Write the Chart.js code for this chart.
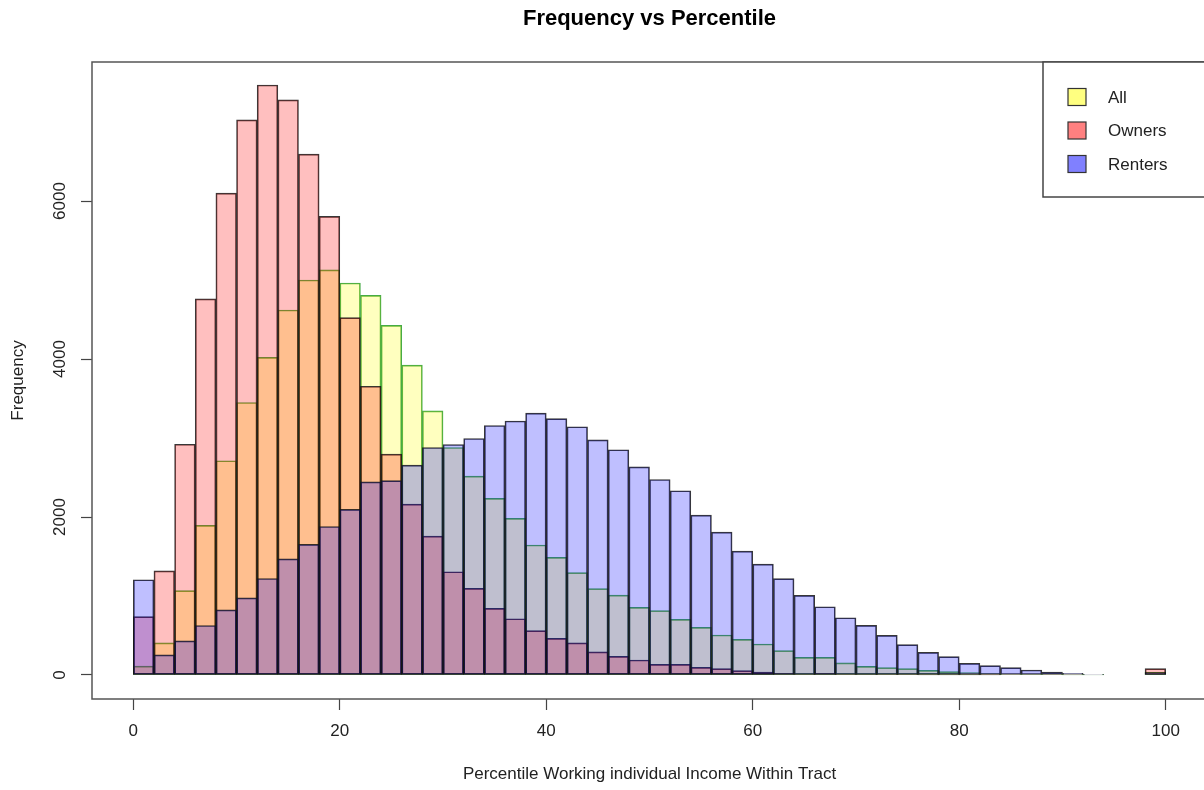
<!DOCTYPE html>
<html>
<head>
<meta charset="utf-8">
<title>Frequency vs Percentile</title>
<script src="https://cdn.jsdelivr.net/npm/chart.js@4.4.1/dist/chart.umd.min.js"></script>
<style>
  html, body { margin: 0; padding: 0; background: #ffffff; overflow: hidden; }
  #chart { display: block; }
</style>
</head>
<body>
<canvas id="chart" width="1230" height="790"></canvas>
<script>
// histogram bins of width 2, given by their midpoints
const binMids = [1, 3, 5, 7, 9, 11, 13, 15, 17, 19, 21, 23, 25, 27, 29, 31, 33, 35, 37, 39,
    41, 43, 45, 47, 49, 51, 53, 55, 57, 59, 61, 63, 65, 67, 69, 71, 73, 75, 77, 79,
    81, 83, 85, 87, 89, 91, 93, 95, 97, 99];

const allCounts = [112, 407, 1068, 1893, 2712, 3450, 4020, 4620, 5000, 5128,
    4962, 4805, 4425, 3922, 3344, 2880, 2517, 2235, 1982, 1645,
    1488, 1295, 1094, 1012, 856, 814, 704, 603, 506, 451,
    392, 308, 223, 223, 154, 110, 93, 80, 59, 42,
    30, 17, 8, 5, 3, 2, 1, 0, 0, 35];

const ownerCounts = [738, 1318, 2921, 4762, 6100, 7027, 7469, 7281, 6594, 5805,
    4523, 3655, 2795, 2163, 1758, 1307, 1096, 843, 712, 561,
    464, 407, 293, 236, 190, 135, 135, 97, 80, 55,
    38, 21, 13, 21, 8, 5, 4, 3, 2, 2,
    1, 1, 0, 0, 0, 0, 0, 0, 0, 80];

const renterCounts = [1206, 254, 432, 626, 824, 977, 1221, 1470, 1654, 1880,
    2096, 2444, 2460, 2657, 2880, 2918, 2994, 3158, 3215, 3316,
    3245, 3143, 2977, 2851, 2635, 2475, 2332, 2024, 1809, 1569,
    1404, 1219, 1008, 864, 725, 628, 502, 384, 287, 232,
    148, 118, 93, 63, 38, 21, 8, 0, 0, 30];

const xTicks = [0, 20, 40, 60, 80, 100];
const yTicks = [0, 2000, 4000, 6000];

const fontFamily = '"Liberation Sans", Arial, Helvetica, sans-serif';
const textColor = '#222222';
const mainTitle = 'Frequency vs Percentile';

const legendItems = [
    { label: 'All', color: 'rgb(255,255,128)' },
    { label: 'Owners', color: 'rgb(255,128,128)' },
    { label: 'Renters', color: 'rgb(128,128,255)' }
];

const toPoints = counts => counts.map((c, i) => ({ x: binMids[i], y: c }));

// frame around the plot region, R style
const framePlugin = {
    id: 'plotFrame',
    afterDatasetsDraw: (chart) => {
        const { ctx, chartArea } = chart;
        ctx.save();
        ctx.strokeStyle = '#555555';
        ctx.lineWidth = 1.5;
        ctx.strokeRect(chartArea.left, chartArea.top, chartArea.right - chartArea.left, chartArea.bottom - chartArea.top);
        ctx.restore();
    }
};

// main title, centred over the plot region (not the whole canvas)
const plotTitlePlugin = {
    id: 'plotTitle',
    afterDraw: (chart) => {
        const { ctx, chartArea } = chart;
        ctx.save();
        ctx.fillStyle = '#000000';
        ctx.font = 'bold 22px ' + fontFamily;
        ctx.textAlign = 'center';
        ctx.textBaseline = 'middle';
        ctx.fillText(mainTitle, (chartArea.left + chartArea.right) / 2, 19);
        ctx.restore();
    }
};

// boxed legend in the top right corner
const boxLegendPlugin = {
    id: 'boxLegend',
    afterDraw: (chart) => {
        const { ctx, chartArea } = chart;
        const boxW = 164, boxH = 135;
        const left = chartArea.right - boxW;
        const top = chartArea.top;
        ctx.save();
        ctx.fillStyle = '#ffffff';
        ctx.fillRect(left, top, boxW, boxH);
        ctx.strokeStyle = '#444444';
        ctx.lineWidth = 1.5;
        ctx.strokeRect(left, top, boxW, boxH);
        ctx.font = '17px ' + fontFamily;
        ctx.textBaseline = 'middle';
        ctx.textAlign = 'left';
        legendItems.forEach((item, i) => {
            const cy = top + 35 + i * 33.5;
            ctx.fillStyle = item.color;
            ctx.fillRect(left + 25, cy - 8.5, 18, 17);
            ctx.strokeStyle = '#333333';
            ctx.lineWidth = 1.2;
            ctx.strokeRect(left + 25, cy - 8.5, 18, 17);
            ctx.fillStyle = textColor;
            ctx.fillText(item.label, left + 65, cy + 1);
        });
        ctx.restore();
    }
};

const ctx = document.getElementById('chart');

const config = {
    type: 'bar',
    data: {
        datasets: [
            {
                label: 'All',
                data: toPoints(allCounts),
                backgroundColor: 'rgba(255,255,0,0.25)',
                borderColor: 'rgb(70,170,70)',
                borderWidth: 1,
                borderSkipped: false,
                grouped: false,
                order: 3
            },
            {
                label: 'Owners',
                data: toPoints(ownerCounts),
                backgroundColor: 'rgba(255,0,0,0.25)',
                borderColor: 'rgba(20,20,20,0.85)',
                borderWidth: 1,
                borderSkipped: false,
                grouped: false,
                order: 2
            },
            {
                label: 'Renters',
                data: toPoints(renterCounts),
                backgroundColor: 'rgba(0,0,255,0.25)',
                borderColor: 'rgba(20,20,20,0.85)',
                borderWidth: 1,
                borderSkipped: false,
                grouped: false,
                order: 1
            }
        ]
    },
    options: {
        responsive: false,
        animation: false,
        events: [],
        barPercentage: 1,
        categoryPercentage: 1,
        layout: {
            padding: { left: 0, right: 23, top: 62, bottom: 0 }
        },
        plugins: {
            legend: { display: false },
            tooltip: { enabled: false },
            title: { display: false }
        },
        scales: {
            x: {
                type: 'linear',
                min: -4,
                max: 104,
                offset: false,
                afterBuildTicks: (scale) => { scale.ticks = xTicks.map(v => ({ value: v })); },
                afterFit: (scale) => { scale.height = 91; },
                ticks: {
                    color: textColor,
                    font: { family: fontFamily, size: 17 },
                    padding: 11,
                    maxRotation: 0,
                    autoSkip: false,
                    callback: (value) => String(value)
                },
                grid: {
                    offset: false,
                    drawOnChartArea: false,
                    drawTicks: true,
                    tickLength: 11,
                    tickWidth: 1.2,
                    tickColor: '#444444'
                },
                border: { display: false },
                title: {
                    display: true,
                    text: 'Percentile Working individual Income Within Tract',
                    color: textColor,
                    font: { family: fontFamily, size: 17 },
                    padding: { top: 0, bottom: 5 }
                }
            },
            y: {
                min: -304,
                max: 7760,
                afterBuildTicks: (scale) => { scale.ticks = yTicks.map(v => ({ value: v })); },
                afterFit: (scale) => { scale.width = 92; },
                ticks: {
                    color: textColor,
                    font: { family: fontFamily, size: 17 },
                    minRotation: 90,
                    maxRotation: 90,
                    crossAlign: 'center',
                    padding: 2,
                    callback: (value) => String(value)
                },
                grid: {
                    drawOnChartArea: false,
                    drawTicks: true,
                    tickLength: 11,
                    tickWidth: 1.2,
                    tickColor: '#444444'
                },
                border: { display: false },
                title: {
                    display: true,
                    text: 'Frequency',
                    color: textColor,
                    font: { family: fontFamily, size: 17 },
                    padding: { top: 8, bottom: 0 }
                }
            }
        }
    },
    plugins: [framePlugin, plotTitlePlugin, boxLegendPlugin]
};

const histChart = new Chart(ctx, config);
</script>
</body>
</html>
